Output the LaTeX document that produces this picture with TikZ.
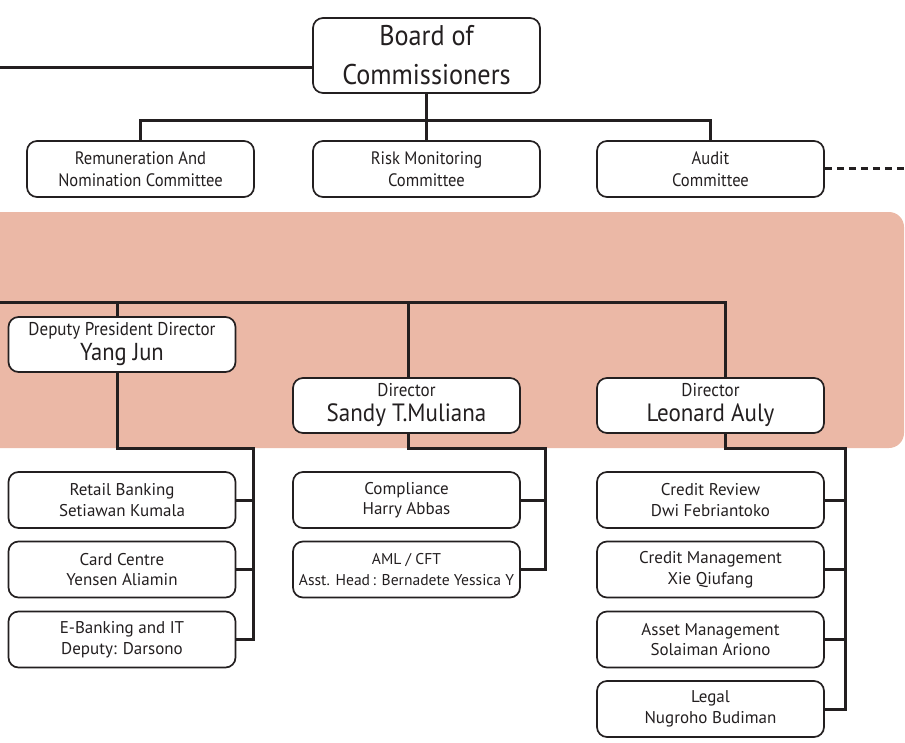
\documentclass[tikz,border=0pt]{standalone}
\usepackage{fontspec}
\setmainfont{PT Sans}
\newfontfamily\condf[FakeStretch=0.92]{PT Sans}
\definecolor{band}{HTML}{EBB8A6}
\definecolor{ink}{HTML}{231F20}
\begin{document}
\begin{tikzpicture}[x=1pt,y=-1pt,
  box/.style={draw=ink,line width=1.7pt,rounded corners=10pt,fill=white,minimum width=227pt,inner sep=0pt,align=center,text=ink},
  conn/.style={draw=ink,line width=3pt},
  cbox/.style={box,minimum height=56pt,font=\condf\fontsize{18}{22}\selectfont},
  ubox/.style={box,minimum height=56pt,font=\fontsize{17}{20.5}\selectfont},
  dbox/.style={box,minimum height=55pt,font=\condf\fontsize{18.5}{25}\selectfont},
  big/.style={font=\condf\fontsize{25}{25}\selectfont},
  ]
\useasboundingbox (0,0) rectangle (905,742);
\fill[band,rounded corners=15pt] (-30,212) rectangle (904,448);
% top
\node[box,minimum height=75pt,font=\condf\fontsize{28.5}{39}\selectfont] (boc) at (426.5,55.5) {Board of\\Commissioners};
\coordinate (L1) at (0,67);
\node[cbox] (rem) at (140.5,169) {Remuneration And\\Nomination Committee};
\node[cbox] (risk) at (426.5,169) {Risk Monitoring\\Committee};
\node[cbox] (aud) at (710.5,169) {Audit\\Committee};
\coordinate (R1) at (905,168);
\draw[conn] (L1) -- (boc.west|-L1);
\draw[conn] (boc.south) -- (426.5,120);
\draw[conn] (rem.north) -- (140.5,120) -- (710.5,120) -- (aud.north);
\draw[conn] (risk.north) -- (426.5,120);
\draw[ink,line width=3pt,dash pattern=on 7pt off 5pt] (aud.east|-R1) -- (R1);
% directors
\node[dbox] (dep) at (122,344.5) {Deputy President Director\\{\fontsize{24.5}{25}\selectfont Yang Jun}};
\node[dbox] (san) at (406.5,405.5) {Director\\{\fontsize{25}{25}\selectfont Sandy T.Muliana}};
\node[dbox] (leo) at (710.5,405.5) {Director\\{\fontsize{25}{25}\selectfont Leonard Auly}};
\coordinate (L2) at (0,302);
\draw[conn] (L2) -- (725,302) -- (725,378);
\draw[conn] (117,302) -- (117,317);
\draw[conn] (408,302) -- (408,378);
% left column
\node[ubox] (ret) at (122,500) {Retail Banking\\Setiawan Kumala};
\node[ubox] (card) at (122,569.5) {Card Centre\\Yensen Aliamin};
\node[ubox] (eb) at (122,639.5) {E-Banking and IT\\Deputy: Darsono};
\draw[conn] (117,372) -- (117,448) -- (253,448) -- (253,639.5) -- (eb.east);
\draw[conn] (ret.east) -- (253,500);
\draw[conn] (card.east) -- (253,569.5);
% middle column
\node[ubox] (comp) at (406.5,500) {Compliance\\Harry Abbas};
\node[ubox,font=\fontsize{15.6}{20.5}\selectfont] (aml) at (406.5,569.5) {AML / CFT\\Asst. Head\,: Bernadete Yessica Y};
\draw[conn] (408,433) -- (408,448) -- (545,448) -- (545,569.5) -- (aml.east);
\draw[conn] (comp.east) -- (545,500);
% right column
\node[ubox] (cr) at (710.5,500) {Credit Review\\Dwi Febriantoko};
\node[ubox] (cm) at (710.5,569.5) {Credit Management\\Xie Qiufang};
\node[ubox] (am) at (710.5,639.5) {Asset Management\\Solaiman Ariono};
\node[ubox] (leg) at (710.5,709) {Legal\\Nugroho Budiman};
\draw[conn] (725,433) -- (725,448) -- (845,448) -- (845,709) -- (leg.east);
\draw[conn] (cr.east) -- (845,500);
\draw[conn] (cm.east) -- (845,569.5);
\draw[conn] (am.east) -- (845,639.5);
\end{tikzpicture}
\end{document}
